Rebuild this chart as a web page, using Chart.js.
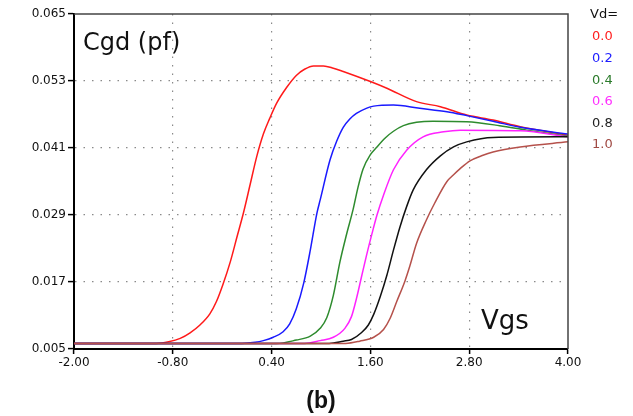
<!DOCTYPE html>
<html>
<head>
<meta charset="utf-8">
<script src="https://cdn.jsdelivr.net/npm/chart.js@4.4.1/dist/chart.umd.min.js"></script>
<style>
  html, body { margin: 0; padding: 0; background: #fff; }
  #wrap { width: 633px; height: 416px; }
</style>
</head>
<body>
<div id="wrap"><canvas id="grafico" width="633" height="416"></canvas></div>
<script>
// axis ticks
const xTicks = [-2.0, -0.8, 0.4, 1.6, 2.8, 4.0];
const yTicks = [0.005, 0.017, 0.029, 0.041, 0.053, 0.065];

// Vd values shown in the legend
const vdLabels = ['0.0', '0.2', '0.4', '0.6', '0.8', '1.0'];

// Cgd (pf) vs Vgs, one pair of arrays per Vd
const vgs00 = [-2.0, -1.0, -0.85, -0.71, -0.59, -0.47, -0.35, -0.27, -0.19, -0.10, -0.02, 0.06, 0.14, 0.22, 0.30, 0.38, 0.46, 0.58, 0.70, 0.80, 0.91, 1.03, 1.15, 1.27, 1.60, 1.80, 2.16, 2.45, 2.77, 3.09, 3.42, 4.0];
const cgd00 = [0.006, 0.006, 0.0063, 0.0069, 0.0079, 0.0093, 0.0113, 0.0135, 0.0166, 0.0207, 0.0251, 0.0295, 0.0345, 0.0395, 0.0435, 0.0464, 0.0490, 0.0518, 0.0540, 0.0551, 0.0557, 0.0557, 0.0553, 0.0547, 0.0529, 0.0517, 0.0493, 0.0484, 0.0469, 0.0460, 0.0448, 0.0433];

const vgs02 = [-2.0, 0.04, 0.20, 0.30, 0.42, 0.54, 0.62, 0.70, 0.79, 0.87, 0.95, 0.99, 1.11, 1.19, 1.27, 1.35, 1.43, 1.55, 1.64, 1.88, 2.20, 2.53, 2.77, 3.09, 3.42, 4.0];
const cgd02 = [0.006, 0.006, 0.0062, 0.0065, 0.0071, 0.0081, 0.0095, 0.0122, 0.0168, 0.0227, 0.0293, 0.0317, 0.0389, 0.0422, 0.0447, 0.0462, 0.0472, 0.0481, 0.0485, 0.0487, 0.0481, 0.0475, 0.0468, 0.0458, 0.0447, 0.0435];

const vgs04 = [-2.0, 0.46, 0.70, 0.87, 0.99, 1.07, 1.15, 1.23, 1.31, 1.39, 1.45, 1.51, 1.60, 1.68, 1.78, 1.88, 2.00, 2.16, 2.36, 2.77, 3.17, 3.50, 4.0];
const cgd04 = [0.006, 0.006, 0.0066, 0.0073, 0.0087, 0.0106, 0.0146, 0.0206, 0.0255, 0.0300, 0.0340, 0.0372, 0.0398, 0.0412, 0.0428, 0.0440, 0.0450, 0.0456, 0.0458, 0.0457, 0.0450, 0.0442, 0.0431];

const vgs06 = [-2.0, 0.80, 0.99, 1.15, 1.29, 1.37, 1.43, 1.49, 1.55, 1.62, 1.68, 1.76, 1.88, 2.04, 2.24, 2.49, 2.69, 3.42, 4.0];
const cgd06 = [0.006, 0.006, 0.0065, 0.0071, 0.0087, 0.0108, 0.0140, 0.0178, 0.0216, 0.0257, 0.0290, 0.0326, 0.0371, 0.0406, 0.0430, 0.0439, 0.0442, 0.0441, 0.0430];

const vgs08 = [-2.0, 1.10, 1.27, 1.37, 1.49, 1.575, 1.64, 1.72, 1.80, 1.88, 1.96, 2.04, 2.12, 2.28, 2.45, 2.61, 2.77, 3.09, 4.0];
const cgd08 = [0.006, 0.006, 0.0064, 0.0067, 0.0079, 0.0093, 0.0112, 0.0144, 0.0182, 0.0227, 0.0269, 0.0305, 0.0335, 0.0371, 0.0396, 0.0412, 0.0421, 0.0429, 0.0430];

const vgs10 = [-2.0, 1.30, 1.47, 1.64, 1.76, 1.84, 1.92, 2.02, 2.08, 2.16, 2.28, 2.38, 2.53, 2.61, 2.69, 2.81, 2.95, 3.09, 3.42, 4.0];
const cgd10 = [0.006, 0.006, 0.0064, 0.0071, 0.0085, 0.0105, 0.0135, 0.0172, 0.0199, 0.0239, 0.0281, 0.0311, 0.0350, 0.0362, 0.0373, 0.0387, 0.0396, 0.0403, 0.0412, 0.0421];

const lineColors = ['#ff1a1a', '#1a1aff', '#2e8b2e', '#ff22ff', '#111111', '#b5514b'];
const textColors = ['#ff2020', '#2020ff', '#2a7a2a', '#ff30ff', '#222222', '#a04a44'];

const series = [[vgs00, cgd00], [vgs02, cgd02], [vgs04, cgd04], [vgs06, cgd06], [vgs08, cgd08], [vgs10, cgd10]];

const toPoints = (xs, ys) => xs.map((x, i) => ({ x: x, y: ys[i] }));

const edgeTransparent = c => {
  const last = c.scale.ticks.length - 1;
  return (c.index === 0 || c.index === last) ? 'rgba(0,0,0,0)' : '#8a8a8a';
};

// frame, axis titles, "Vd=" legend and caption
const annotations = {
  id: 'annotations',
  afterDatasetsDraw(chart) {
    const { ctx, chartArea: a } = chart;
    ctx.save();
    ctx.strokeStyle = '#444';
    ctx.lineWidth = 1.5;
    ctx.beginPath();
    ctx.moveTo(a.left, a.top);
    ctx.lineTo(a.right, a.top);
    ctx.lineTo(a.right, a.bottom);
    ctx.stroke();

    ctx.textBaseline = 'middle';
    ctx.textAlign = 'left';
    ctx.fillStyle = '#111';
    ctx.font = '24px "DejaVu Sans"';
    ctx.fillText('Cgd (pf)', 83, 44);
    ctx.font = '26px "DejaVu Sans"';
    ctx.fillText('Vgs', 481, 322);

    ctx.font = '13px "DejaVu Sans"';
    ctx.fillStyle = '#111';
    ctx.fillText('Vd=', 590, 15);
    vdLabels.forEach((lbl, i) => {
      ctx.fillStyle = textColors[i];
      ctx.fillText(lbl, 592, 37 + i * 21.6);
    });

    ctx.textAlign = 'center';
    ctx.fillStyle = '#111';
    ctx.font = 'bold 23px "Liberation Sans"';
    ctx.fillText('(b)', 321, 402);
    ctx.restore();
  }
};

new Chart(document.getElementById('grafico').getContext('2d'), {
  type: 'line',
  data: {
    datasets: series.map((s, i) => ({
      label: 'Vd=' + vdLabels[i],
      data: toPoints(s[0], s[1]),
      borderColor: lineColors[i],
      borderWidth: 1.5,
      pointRadius: 0,
      fill: false,
      cubicInterpolationMode: 'monotone',
      order: series.length - i
    }))
  },
  options: {
    responsive: false,
    animation: false,
    layout: { padding: { top: 14, right: 65, left: 0, bottom: 0 } },
    plugins: {
      legend: { display: false },
      tooltip: { enabled: false }
    },
    scales: {
      x: {
        type: 'linear',
        min: -2,
        max: 4,
        afterBuildTicks: scale => { scale.ticks = xTicks.map(v => ({ value: v })); },
        afterFit: scale => { scale.height = 67; },
        ticks: {
          color: '#111',
          padding: 2,
          maxRotation: 0,
          font: { family: 'DejaVu Sans', size: 12 },
          callback: v => Number(v).toFixed(2)
        },
        grid: {
          color: edgeTransparent,
          lineWidth: 1.2,
          tickLength: 5,
          tickColor: '#000',
          tickWidth: 1.5
        },
        border: { color: '#000', width: 2, dash: [1.5, 7] }
      },
      y: {
        type: 'linear',
        min: 0.005,
        max: 0.065,
        afterBuildTicks: scale => { scale.ticks = yTicks.map(v => ({ value: v })); },
        afterFit: scale => { scale.width = 74; },
        ticks: {
          color: '#111',
          padding: 2,
          font: { family: 'DejaVu Sans', size: 12 },
          callback: v => Number(v).toFixed(3)
        },
        grid: {
          color: edgeTransparent,
          lineWidth: 1.2,
          tickLength: 6,
          tickColor: '#000',
          tickWidth: 1.5
        },
        border: { color: '#000', width: 2, dash: [1.5, 7] }
      }
    }
  },
  plugins: [annotations]
});
</script>
</body>
</html>
